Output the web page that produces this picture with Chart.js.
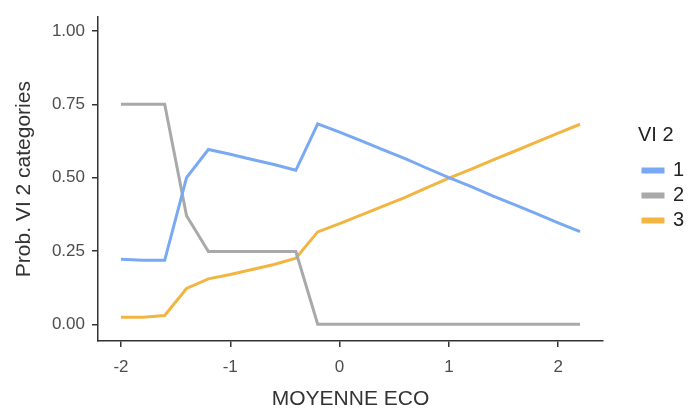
<!DOCTYPE html>
<html lang="fr">
<head>
  <meta charset="UTF-8">
  <title>Prob. VI 2 categories</title>
  <script src="https://cdn.jsdelivr.net/npm/chart.js"></script>
  <style>
    body {
      margin: 0;
      background: #ffffff;
    }

    .chart-box {
      width: 691px;
      height: 412px;
    }
  </style>
</head>
<body>
  <div class="chart-box">
    <canvas id="probChart"></canvas>
  </div>

  <script>
    // values
    const moyenneEco = [-2, -1.8, -1.6, -1.4, -1.2, -1.0, -0.8, -0.6, -0.4, -0.2, 0, 0.2, 0.4, 0.6, 0.8, 1.0, 1.2, 1.4, 1.6, 1.8, 2.0, 2.2];
    const cat1 = [0.222, 0.218, 0.218, 0.50, 0.596, 0.58, 0.562, 0.545, 0.525, 0.683, 0.655, 0.625, 0.595, 0.565, 0.532, 0.500, 0.470, 0.438, 0.408, 0.377, 0.346, 0.316];
    const cat2 = [0.75, 0.75, 0.75, 0.37, 0.248, 0.248, 0.248, 0.248, 0.248, 0.0, 0.0, 0.0, 0.0, 0.0, 0.0, 0.0, 0.0, 0.0, 0.0, 0.0, 0.0, 0.0];
    const cat3 = [0.024, 0.024, 0.03, 0.122, 0.155, 0.170, 0.187, 0.204, 0.225, 0.315, 0.343, 0.373, 0.403, 0.433, 0.466, 0.498, 0.528, 0.560, 0.590, 0.621, 0.652, 0.682];
    const seriesNames = ['1', '2', '3'];
    const xTicks = [-2, -1, 0, 1, 2];
    const yTicks = [0, 0.25, 0.5, 0.75, 1];

    const colors = ['#78a9f2', '#a9a9a9', '#f2b541'];
    const axisColor = '#333333';
    const font = "'Liberation Sans', Arial, sans-serif";

    const toPoints = vals => vals.map((v, i) => ({ x: moyenneEco[i], y: v }));

    // keep the legend in a fixed strip on the right, like the ggplot guide
    const legendStrip = {
      id: 'legendStrip',
      afterInit(chart) {
        const legend = chart.legend;
        const origFit = legend.fit;
        legend.fit = function () {
          origFit.call(this);
          this.width = 88;
        };
      },
      afterLayout(chart) {
        const legend = chart.legend;
        legend.left = 638;
        legend.top -= 32;
        legend.bottom -= 32;
      }
    };

    const ctx = document.getElementById('probChart').getContext('2d');
    new Chart(ctx, {
      type: 'line',
      data: {
        datasets: [cat1, cat2, cat3].map((vals, i) => ({
          label: seriesNames[i],
          data: toPoints(vals),
          borderColor: colors[i],
          backgroundColor: colors[i],
          borderWidth: 3,
          pointRadius: 0,
          tension: 0,
          fill: false
        }))
      },
      plugins: [legendStrip],
      options: {
        responsive: true,
        maintainAspectRatio: false,
        animation: false,
        layout: {
          padding: { top: 13, right: 0, bottom: 0, left: 0 }
        },
        plugins: {
          tooltip: { enabled: false },
          legend: {
            position: 'right',
            align: 'center',
            title: {
              display: true,
              text: 'VI 2',
              position: 'start',
              color: '#222222',
              font: { family: font, size: 20 },
              padding: { top: 0, bottom: 6 }
            },
            labels: {
              color: '#222222',
              font: { family: font, size: 20 },
              boxWidth: 20,
              boxHeight: 3,
              padding: 5
            }
          }
        },
        scales: {
          x: {
            type: 'linear',
            min: -2.21,
            max: 2.41,
            afterBuildTicks: scale => {
              scale.ticks = xTicks.map(v => ({ value: v }));
            },
            afterFit: scale => {
              scale.height = 71;
            },
            grid: {
              drawOnChartArea: false,
              drawTicks: true,
              tickLength: 6,
              color: axisColor,
              lineWidth: 1.5
            },
            border: { display: true, color: axisColor, width: 1.5 },
            ticks: {
              color: '#4d4d4d',
              font: { family: font, size: 17 },
              padding: 10,
              maxRotation: 0,
              callback: v => String(v)
            },
            title: {
              display: true,
              text: 'MOYENNE ECO',
              color: '#333333',
              font: { family: font, size: 21 },
              padding: { top: 0, bottom: 0 }
            }
          },
          y: {
            min: -0.057,
            max: 1.047,
            afterBuildTicks: scale => {
              scale.ticks = yTicks.map(v => ({ value: v }));
            },
            afterFit: scale => {
              scale.width = 98;
            },
            grid: {
              drawOnChartArea: false,
              drawTicks: true,
              tickLength: 6,
              color: axisColor,
              lineWidth: 1.5
            },
            border: { display: true, color: axisColor, width: 1.5 },
            ticks: {
              color: '#4d4d4d',
              font: { family: font, size: 17 },
              padding: 7,
              callback: v => v.toFixed(2)
            },
            title: {
              display: true,
              text: 'Prob. VI 2 categories',
              color: '#333333',
              font: { family: font, size: 21 },
              padding: { top: 12, bottom: 0 }
            }
          }
        }
      }
    });
  </script>
</body>
</html>
